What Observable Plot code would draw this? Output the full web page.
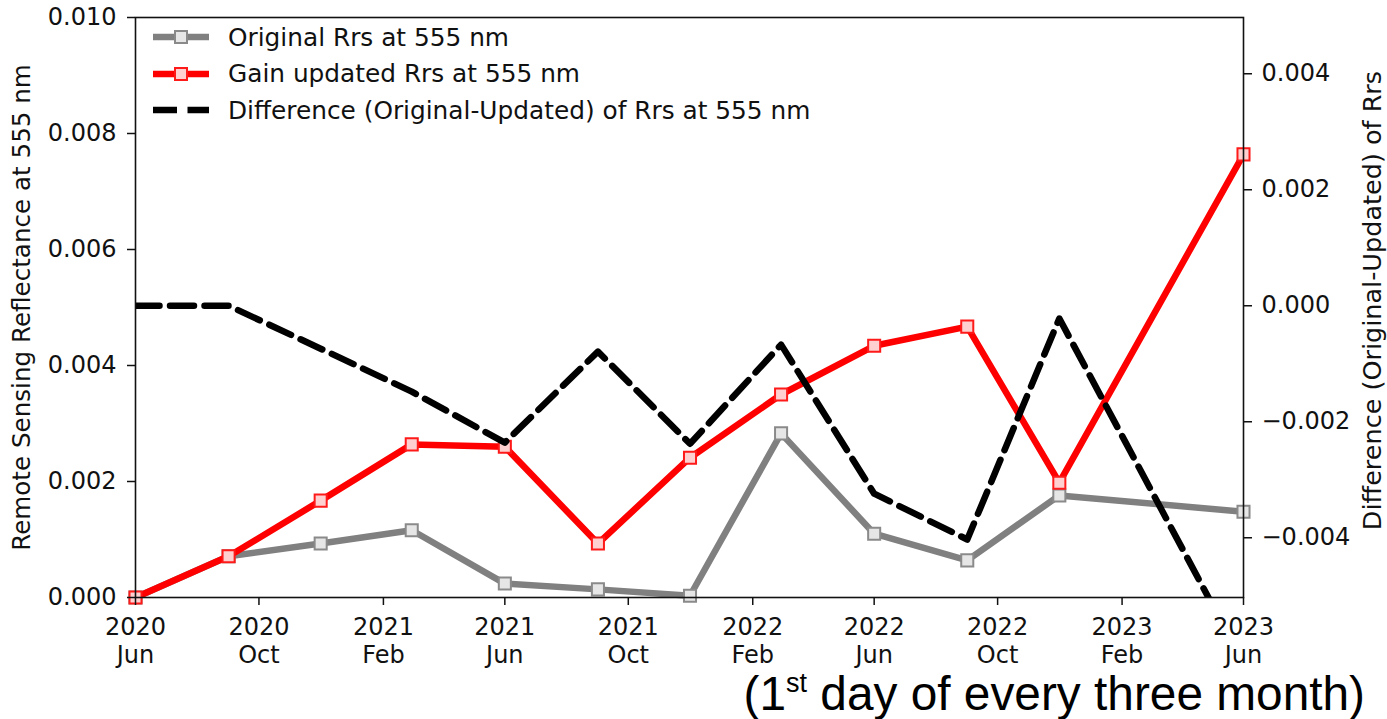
<!DOCTYPE html>
<html>
<head>
<meta charset="utf-8">
<script src="https://cdn.jsdelivr.net/npm/d3@7"></script>
<script src="https://cdn.jsdelivr.net/npm/@observablehq/plot@0.6"></script>
<style>
  body { margin: 0; background: #fff; }
  #wrap { position: relative; width: 1387px; height: 719px; overflow: hidden; font-family: "DejaVu Sans", sans-serif; }
  #legend { position: absolute; left: 150px; top: 19px; font-size: 24.8px; color: #111; }
  #legend .row { height: 36.5px; display: flex; align-items: center; }
  #legend svg { margin-right: 16px; }
  #caption { position: absolute; right: 22px; top: 670px; font-family: "Liberation Sans", Arial, sans-serif; font-size: 47.8px; color: #000; line-height: 1; white-space: nowrap; }
  #caption sup { font-size: 27px; vertical-align: 18px; }
</style>
</head>
<body>
<div id="wrap">
  <div id="chart"></div>
  <div id="legend"></div>
  <div id="caption">(1<sup>st</sup> day of every three month)</div>
</div>
<script>
// Dates (1st day of every three months)
const dates = ["2020-06-01","2020-09-01","2020-12-01","2021-03-01","2021-06-01","2021-09-01","2021-12-01","2022-03-01","2022-06-01","2022-09-01","2022-12-01","2023-06-01"];
// Original Rrs at 555 nm (left axis)
const original = [0.0000, 0.00071, 0.00093, 0.00116, 0.00024, 0.00014, 0.00003, 0.00283, 0.00110, 0.00064, 0.00176, 0.00148];
// Gain updated Rrs at 555 nm (left axis)
const updated = [0.0000, 0.00071, 0.00167, 0.00264, 0.00260, 0.00093, 0.00241, 0.00350, 0.00434, 0.00467, 0.00198, 0.00764];
// Difference (Original-Updated) (right axis)
const difference = [0.0000, 0.0000, -0.00074, -0.00148, -0.00236, -0.00079, -0.00238, -0.00067, -0.00324, -0.00403, -0.00022, -0.00616];

const xTicks = ["2020-06-01","2020-10-01","2021-02-01","2021-06-01","2021-10-01","2022-02-01","2022-06-01","2022-10-01","2023-02-01","2023-06-01"];
const leftTicks = [0, 0.002, 0.004, 0.006, 0.008, 0.010];
const rightTicks = [-0.004, -0.002, 0.000, 0.002, 0.004];
const rightOffset = 0.00503; // right-axis 0 sits at left-axis 0.00503

const parse = d3.utcParse("%Y-%m-%d");
const months = ["Jan","Feb","Mar","Apr","May","Jun","Jul","Aug","Sep","Oct","Nov","Dec"];
const rows = dates.map((d, i) => ({
  date: parse(d),
  original: original[i],
  updated: updated[i],
  diff: difference[i] + rightOffset
}));

const f3 = d3.format(".3f");
const font = "DejaVu Sans, sans-serif";

const chart = Plot.plot({
  width: 1387,
  height: 672,
  marginLeft: 135,
  marginRight: 144,
  marginTop: 17,
  marginBottom: 75,
  style: { fontFamily: font, fontSize: "20px", color: "#111", background: "white" },
  x: { type: "utc", domain: [parse("2020-06-01"), parse("2023-06-01")] },
  y: { domain: [0, 0.010] },
  marks: [
    Plot.line(rows, { x: "date", y: "original", stroke: "#808080", strokeWidth: 6.5 }),
    Plot.dot(rows, { x: "date", y: "original", symbol: "square", r: 6.8, stroke: "#8a8a8a", strokeWidth: 2, fill: "#e6e6e6" }),
    Plot.line(rows, { x: "date", y: "updated", stroke: "#ff0000", strokeWidth: 6.5 }),
    Plot.dot(rows, { x: "date", y: "updated", symbol: "square", r: 6.8, stroke: "#ff1a1a", strokeWidth: 2, fill: "#ffd0d0" }),
    Plot.line(rows, { x: "date", y: "diff", stroke: "#000", strokeWidth: 6.5, strokeDasharray: "24,10.5", clip: true }),
    Plot.frame({ stroke: "#111", strokeWidth: 1.6 }),
    Plot.axisX({
      ticks: xTicks.map(parse),
      tickSize: 8, tickPadding: 10, strokeWidth: 1.5,
      tickFormat: d => `${d.getUTCFullYear()}\n${months[d.getUTCMonth()]}`,
      lineHeight: 1.15, fontSize: 24, label: null
    }),
    Plot.axisY({
      anchor: "left", ticks: leftTicks, tickSize: 8, tickPadding: 11, strokeWidth: 1.5,
      tickFormat: f3, fontSize: 24, label: null
    }),
    Plot.axisY({
      anchor: "right", ticks: rightTicks.map(v => v + rightOffset), tickSize: 8, tickPadding: 10, strokeWidth: 1.5,
      tickFormat: d => f3(d - rightOffset), fontSize: 24, label: null
    }),
    Plot.text(["Remote Sensing Reflectance at 555 nm"], {
      frameAnchor: "left", textAnchor: "middle", dx: -113, rotate: -90, fontSize: 24.6, fill: "#111", text: d => d
    }),
    Plot.text(["Difference (Original-Updated) of Rrs"], {
      frameAnchor: "right", textAnchor: "middle", dx: 129, dy: -7, rotate: -90, fontSize: 25.5, fill: "#111", text: d => d
    })
  ]
});
document.getElementById("chart").appendChild(chart);

// Legend
const legendItems = [
  { label: "Original Rrs at 555 nm", stroke: "#808080", mstroke: "#8a8a8a", mfill: "#e6e6e6", dash: null },
  { label: "Gain updated Rrs at 555 nm", stroke: "#ff0000", mstroke: "#ff1a1a", mfill: "#ffd0d0", dash: null },
  { label: "Difference (Original-Updated) of Rrs at 555 nm", stroke: "#000", dash: "24,10.5" }
];
const legend = d3.select("#legend");
for (const it of legendItems) {
  const row = legend.append("div").attr("class", "row");
  const s = row.append("svg").attr("width", 62).attr("height", 20);
  s.append("line").attr("x1", 3).attr("x2", 59).attr("y1", 10).attr("y2", 10)
    .attr("stroke", it.stroke).attr("stroke-width", 6.5)
    .attr("stroke-dasharray", it.dash);
  if (!it.dash) {
    s.append("rect").attr("x", 25).attr("y", 4).attr("width", 12).attr("height", 12)
      .attr("fill", it.mfill).attr("stroke", it.mstroke).attr("stroke-width", 2);
  }
  row.append("span").text(it.label);
}
</script>
</body>
</html>
